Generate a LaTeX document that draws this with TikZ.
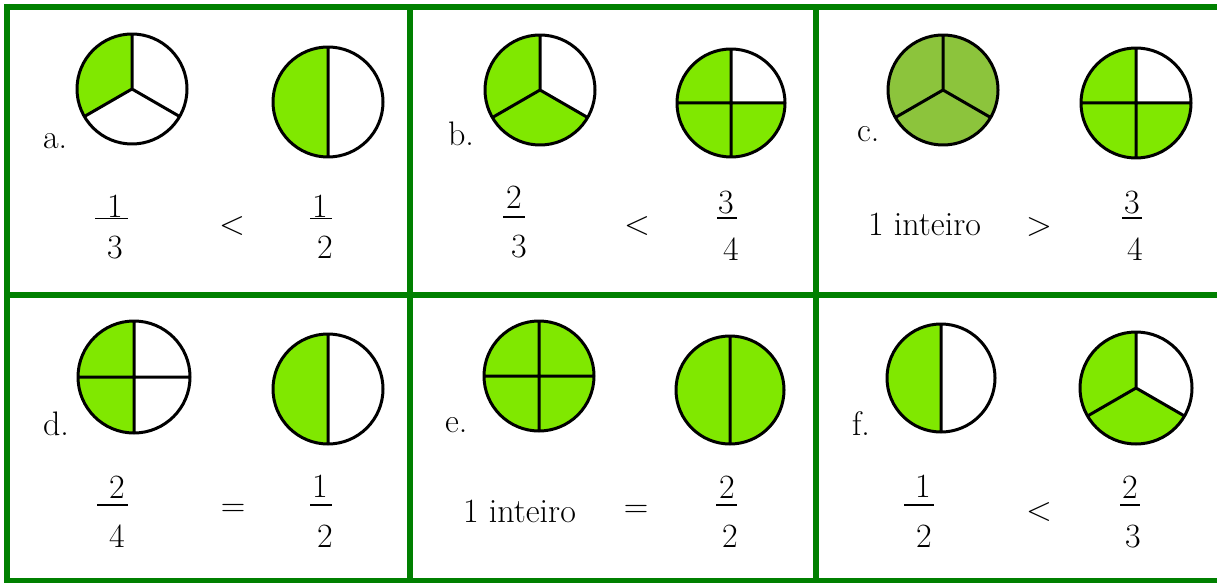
\documentclass[tikz,border=0pt]{standalone}
\usepackage{fontspec}
\definecolor{gridgreen}{RGB}{0,128,0}
\definecolor{brightgreen}{RGB}{128,232,0}
\definecolor{olivegreen}{RGB}{140,196,60}
\newcommand\sector[5]{\fill[#5] (#1) -- ++(#3:#2) arc[start angle=#3,end angle=#4,radius=#2] -- cycle;}
\newcommand\thirdlines[2]{\draw[pieline] (#1) -- ++(90:#2) (#1) -- ++(210:#2) (#1) -- ++(330:#2) (#1) circle[radius=#2];}
\newcommand\quarterlines[2]{\draw[pieline] (#1) ++(0,#2) -- ++(0,-2*#2) (#1) ++(-#2,0) -- ++(2*#2,0) (#1) circle[radius=#2];}
\newcommand\halflines[2]{\draw[pieline] (#1) ++(0,#2) -- ++(0,-2*#2) (#1) circle[radius=#2];}
\begin{document}
\begin{tikzpicture}[x=1pt,y=1pt,
  pieline/.style={line width=3,black,line join=round},
  gridline/.style={line width=6,gridgreen},
  txt/.style={font=\fontsize{34}{40}\selectfont,inner sep=0pt,outer sep=0pt},
  lbl/.style={txt,anchor=base west},
  dig/.style={txt,anchor=base},
  rel/.style={txt,anchor=center},
  fbar/.style={line width=1.7,black}]
\useasboundingbox (0,0) rectangle (1217,-583);
\fill[white] (0,0) rectangle (1217,-583);

% ---------- cell a ----------
\coordinate (aL) at (132,-89);
\coordinate (aR) at (328,-102);
\fill[white] (aL) circle[radius=55];
\sector{aL}{55}{90}{210}{brightgreen}
\thirdlines{aL}{55}
\fill[white] (aR) circle[radius=55];
\sector{aR}{55}{90}{270}{brightgreen}
\halflines{aR}{55}
\node[lbl] (la) at (43,-148) {a.};
\node[dig] (an1) at (115,-217) {1};
\draw[fbar] (95,-218.5) -- (128,-218.5);
\node[dig] (ad1) at (115,-258) {3};
\node[rel] (arel) at (232,-226) {<};
\node[dig] (an2) at (320,-217) {1};
\draw[fbar] (310,-218.5) -- (332,-218.5);
\node[dig] (ad2) at (325,-258) {2};

% ---------- cell b ----------
\coordinate (bL) at (540,-90);
\coordinate (bR) at (731,-103);
\fill[white] (bL) circle[radius=55];
\sector{bL}{55}{90}{330}{brightgreen}
\thirdlines{bL}{55}
\fill[white] (bR) circle[radius=54];
\sector{bR}{54}{90}{360}{brightgreen}
\quarterlines{bR}{54}
\node[lbl] (lb) at (448,-145) {b.};
\node[dig] (bn1) at (514,-208) {2};
\draw[fbar] (503,-217) -- (525,-217);
\node[dig] (bd1) at (519,-257) {3};
\node[rel] (brel) at (637,-226) {<};
\node[dig] (bn2) at (726,-213) {3};
\draw[fbar] (717,-218) -- (737,-218);
\node[dig] (bd2) at (731,-260) {4};

% ---------- cell c ----------
\coordinate (cL) at (943,-90);
\coordinate (cR) at (1136,-103);
\fill[olivegreen] (cL) circle[radius=55];
\thirdlines{cL}{55}
\fill[white] (cR) circle[radius=55];
\sector{cR}{55}{90}{360}{brightgreen}
\quarterlines{cR}{55}
\node[lbl] (lc) at (857,-142) {c.};
\node[lbl] (cint) at (868,-235) {1 inteiro};
\node[rel] (crel) at (1039,-227) {>};
\node[dig] (cn2) at (1132,-213) {3};
\draw[fbar] (1122,-218) -- (1142,-218);
\node[dig] (cd2) at (1135,-260) {4};

% ---------- cell d ----------
\coordinate (dL) at (134,-377);
\coordinate (dR) at (328,-389);
\fill[white] (dL) circle[radius=56];
\sector{dL}{56}{90}{270}{brightgreen}
\quarterlines{dL}{56}
\fill[white] (dR) circle[radius=55];
\sector{dR}{55}{90}{270}{brightgreen}
\halflines{dR}{55}
\node[lbl] (ld) at (43,-435) {d.};
\node[dig] (dn1) at (117,-498) {2};
\draw[fbar] (97,-505) -- (128,-505);
\node[dig] (dd1) at (117,-547) {4};
\node[rel] (drel) at (233,-510) {=};
\node[dig] (dn2) at (320,-497) {1};
\draw[fbar] (310,-505) -- (332,-505);
\node[dig] (dd2) at (325,-547) {2};

% ---------- cell e ----------
\coordinate (eL) at (539,-376);
\coordinate (eR) at (730,-390);
\fill[brightgreen] (eL) circle[radius=55];
\quarterlines{eL}{55}
\fill[brightgreen] (eR) circle[radius=54];
\halflines{eR}{54}
\node[lbl] (le) at (445,-432) {e.};
\node[lbl] (eint) at (463,-522) {1 inteiro};
\node[rel] (erel) at (636,-511) {=};
\node[dig] (en2) at (727,-498) {2};
\draw[fbar] (716,-505) -- (737,-505);
\node[dig] (ed2) at (730,-547) {2};

% ---------- cell f ----------
\coordinate (fL) at (941,-378);
\coordinate (fR) at (1136,-388);
\fill[white] (fL) circle[radius=54];
\sector{fL}{54}{90}{270}{brightgreen}
\halflines{fL}{54}
\fill[white] (fR) circle[radius=56];
\sector{fR}{56}{90}{330}{brightgreen}
\thirdlines{fR}{56}
\node[lbl] (lf) at (852,-435) {f.};
\node[dig] (fn1) at (923,-497) {1};
\draw[fbar] (904,-505) -- (934,-505);
\node[dig] (fd1) at (924,-547) {2};
\node[rel] (frel) at (1039,-512) {<};
\node[dig] (fn2) at (1130,-498) {2};
\draw[fbar] (1120,-505) -- (1140,-505);
\node[dig] (fd2) at (1133,-547) {3};

% ---------- grid ----------
\draw[gridline] (1217,-7.5) -- (4,-7.5);
\draw[gridline] (7,-4) -- (7,-583);
\draw[gridline] (4,-580.5) -- (1217,-580.5);
\draw[gridline] (7,-295) -- (1217,-295);
\draw[gridline] (410,-7.5) -- (410,-580.5);
\draw[gridline] (815.5,-7.5) -- (815.5,-580.5);
\end{tikzpicture}
\end{document}
